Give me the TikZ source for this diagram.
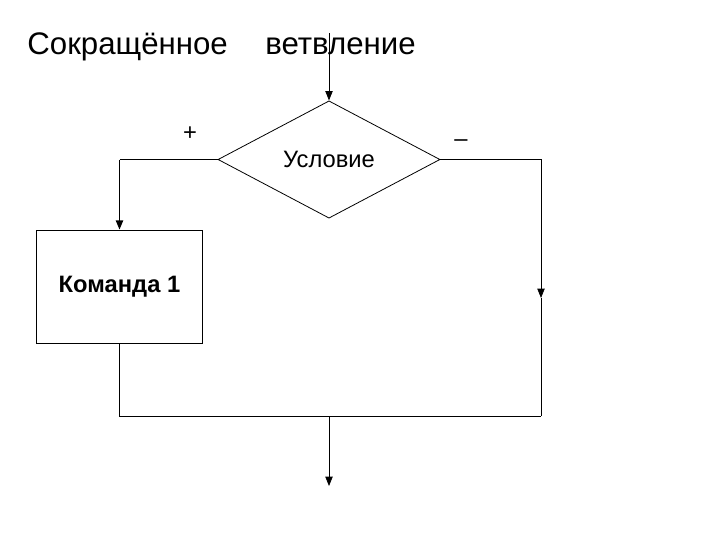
\documentclass[tikz,border=0pt]{standalone}
\usepackage{fontspec}
\setmainfont{Liberation Sans}
\usetikzlibrary{arrows.meta,positioning,shapes.geometric}

\begin{document}
\begin{tikzpicture}[x=0.75pt,y=-0.75pt,>={Triangle[width=5.5pt,length=7pt]},line width=0.6pt,
 ttl/.style={font=\fontsize{23.4}{27}\selectfont,anchor=base west,inner sep=0pt},
 cond/.style={diamond,draw,aspect=1.9,inner sep=0pt,minimum width=166.5pt,minimum height=88pt,font=\fontsize{17.8}{20}\selectfont},
 cmdbox/.style={rectangle,draw,inner sep=0pt,minimum width=124.5pt,minimum height=84.75pt,font=\bfseries\fontsize{17.8}{20}\selectfont},
 sign/.style={font=\fontsize{17.8}{20}\selectfont,inner sep=0pt}]
\useasboundingbox (0,0) rectangle (720,540);
\node[ttl] (title1) at (27,54) {Сокращённое};
\node[ttl] (title2) at (265,54) {ветвление};
\node[cond] (c) at (329,159.5) {Условие};
\node[cmdbox] (k) at (119.5,286.5) {Команда 1};
\node[sign] (plus) at (190,134) {+};
\node[sign] (minus) at (461,143) {–};
\coordinate (in) at (329,33);
\coordinate (lc) at (119.5,159.5);
\coordinate (rc) at (541,159.5);
\coordinate (rmid) at (541,298);
\coordinate (rbot) at (541,416);
\coordinate (join) at (329,416);
\coordinate (out) at (329,486);
% flow lines
\draw[->] (in) -- (c.north);
\draw (c.west) -- (lc);
\draw[->,line width=1.2pt] (lc) -- (k.north);
\draw[->] (c.east) -- (rc) -- (rmid);
\draw (rmid) -- (rbot);
\draw (k.south) |- (rbot);
\draw[->] (join) -- (out);
\end{tikzpicture}
\end{document}
